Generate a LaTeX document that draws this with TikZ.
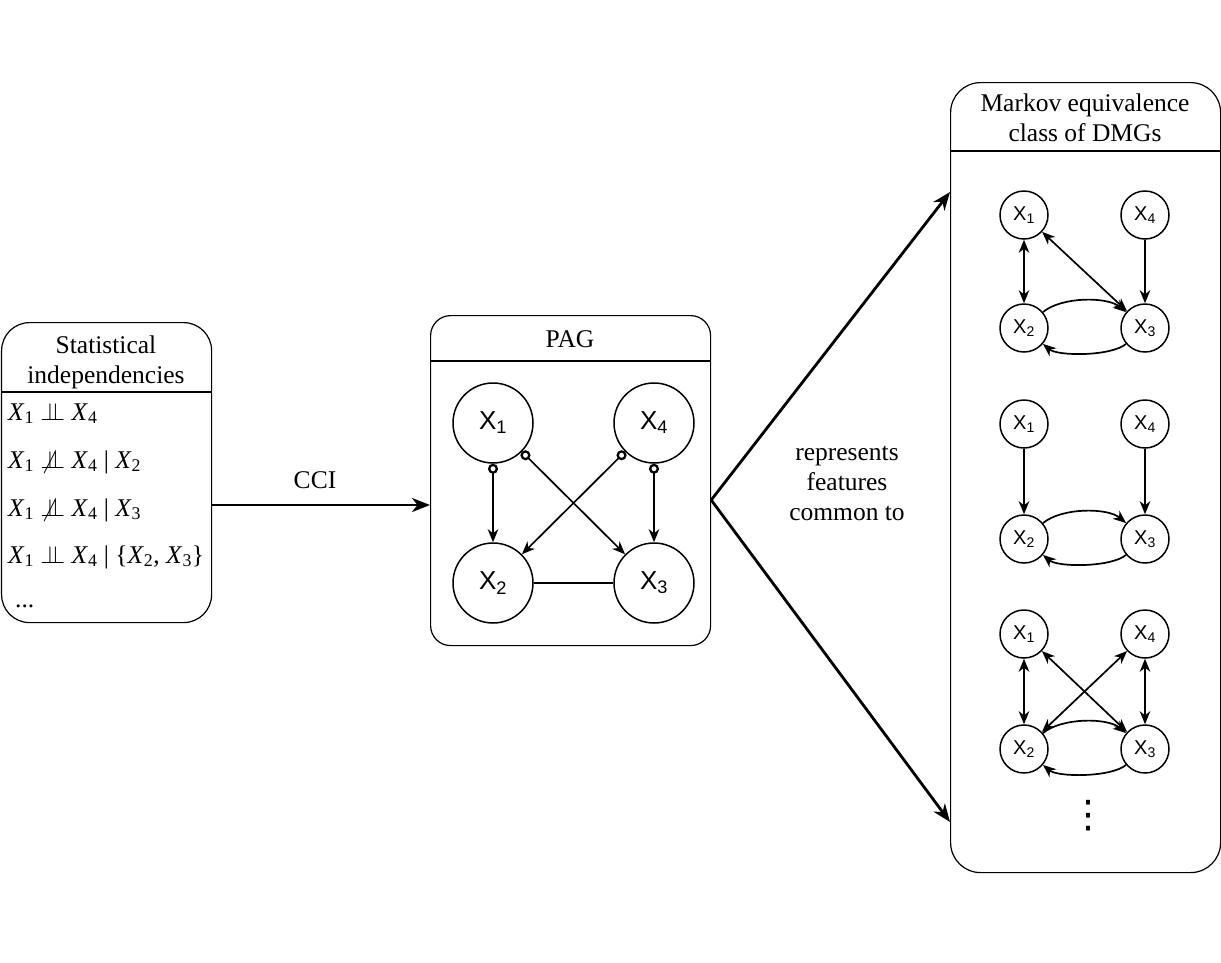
\documentclass[tikz,border=0pt]{standalone}
\usepackage{fontspec}
\setmainfont{Liberation Serif}
\newfontfamily\hv{Liberation Sans}
\newfontfamily\dejavu{DejaVu Sans}
\usetikzlibrary{arrows.meta,calc}
\newcommand\indepsym{\mathrel{\perp\mkern-10mu\perp}}
\newcommand\nindepsym{\mathrel{\not\perp\mkern-10mu\perp}}
\newcommand\vx[1]{\textit{X}\textsubscript{#1}}
\begin{document}
\begin{tikzpicture}[x=1pt,y=1pt,
  box/.style={draw,line width=1.2pt,rounded corners=28pt,inner sep=0pt,anchor=north west},
  divline/.style={line width=1.2pt},
  titletext/.style={font=\fontsize{25.5}{30}\selectfont,align=center,inner sep=0pt},
  mathline/.style={font=\fontsize{25.5}{28}\selectfont,anchor=base west,inner sep=0pt},
  bignode/.style={circle,draw,line width=1.5pt,minimum size=80pt,inner sep=0pt,font=\hv\fontsize{26}{26}\selectfont},
  smallnode/.style={circle,draw,line width=1.5pt,minimum size=48pt,inner sep=0pt,font=\hv\fontsize{20}{20}\selectfont},
  arr/.style={line width=1.7pt,-{Stealth[length=13pt,width=10.5pt,inset=4pt]}},
  biarr/.style={line width=1.7pt,{Stealth[length=13pt,width=10.5pt,inset=4pt]}-{Stealth[length=13pt,width=10.5pt,inset=4pt]}},
  oarr/.style={line width=1.7pt,{Circle[open,length=10pt,width=10pt,line width=2.3pt]}-{Stealth[length=13pt,width=10.5pt,inset=4pt]}},
  plainline/.style={line width=1.7pt},
  bigarr/.style={line width=2.8pt,-{Stealth[length=18pt,width=14pt,inset=5.5pt]}}
]
\useasboundingbox (0,0) rectangle (1221,-962);

% ---- left box
\node[box,minimum width=210pt,minimum height=300pt] (lbox) at (1,-322) {};
\coordinate (ldiv) at (0,-392);
\draw[divline] (lbox.west |- ldiv) -- (lbox.east |- ldiv);
\node[titletext] (ltitle) at (106,-362) {Statistical\\independencies};
\node[mathline] (m1) at (8,-420) {\vx1 $\indepsym$ \vx4};
\node[mathline] (m2) at (8,-468) {\vx1 $\nindepsym$ \vx4 | \vx2};
\node[mathline] (m3) at (8,-516) {\vx1 $\nindepsym$ \vx4 | \vx3};
\node[mathline] (m4) at (8,-563) {\vx1 $\indepsym$ \vx4 | \{\vx2, \vx3\}};
\node[mathline] (m5) at (15,-607) {...};

% ---- PAG box
\node[box,rounded corners=20pt,minimum width=280pt,minimum height=330pt] (pag) at (430,-315) {};
\coordinate (pdiv) at (0,-361);
\draw[divline] (pag.west |- pdiv) -- (pag.east |- pdiv);
\node[titletext] (pagtitle) at (570,-339.5) {PAG};
\node[bignode] (p1) at (493,-423) {X\textsubscript{1}};
\node[bignode] (p4) at (654,-423) {X\textsubscript{4}};
\node[bignode] (p2) at (493,-583) {X\textsubscript{2}};
\node[bignode] (p3) at (654,-583) {X\textsubscript{3}};
\draw[oarr] (p1) -- (p2);
\draw[oarr] (p1) -- (p3);
\draw[oarr] (p4) -- (p2);
\draw[oarr] (p4) -- (p3);
\draw[plainline] (p2) -- (p3);

% ---- MEC box
\node[box,rounded corners=30pt,minimum width=270pt,minimum height=790pt] (mec) at (950,-82) {};
\coordinate (mdiv) at (0,-151);
\draw[divline] (mec.west |- mdiv) -- (mec.east |- mdiv);
\node[titletext] (mectitle) at (1085,-118) {Markov equivalence\\class of DMGs};

% graph 1
\node[smallnode] (a1) at (1024,-215) {X\textsubscript{1}};
\node[smallnode] (a4) at (1145,-215) {X\textsubscript{4}};
\node[smallnode] (a2) at (1024,-328) {X\textsubscript{2}};
\node[smallnode] (a3) at (1145,-328) {X\textsubscript{3}};
\draw[biarr] (a1) -- (a2);
\draw[biarr] (a1) -- (a3);
\draw[arr] (a4) -- (a3);
\draw[arr] (a2) to[out=40,in=140,looseness=0.75] (a3);
\draw[arr] (a3) to[out=220,in=-40,looseness=0.6] (a2);

% graph 2
\node[smallnode] (b1) at (1024,-424) {X\textsubscript{1}};
\node[smallnode] (b4) at (1145,-424) {X\textsubscript{4}};
\node[smallnode] (b2) at (1024,-539) {X\textsubscript{2}};
\node[smallnode] (b3) at (1145,-539) {X\textsubscript{3}};
\draw[arr] (b1) -- (b2);
\draw[arr] (b4) -- (b3);
\draw[arr] (b2) to[out=40,in=140,looseness=0.75] (b3);
\draw[arr] (b3) to[out=220,in=-40,looseness=0.6] (b2);

% graph 3
\node[smallnode] (c1) at (1024,-634) {X\textsubscript{1}};
\node[smallnode] (c4) at (1145,-634) {X\textsubscript{4}};
\node[smallnode] (c2) at (1024,-749) {X\textsubscript{2}};
\node[smallnode] (c3) at (1145,-749) {X\textsubscript{3}};
\draw[biarr] (c1) -- (c2);
\draw[biarr] (c4) -- (c3);
\draw[biarr] (c1) -- (c3);
\draw[biarr] (c2) -- (c4);
\draw[arr] (c2) to[out=40,in=140,looseness=0.75] (c3);
\draw[arr] (c3) to[out=220,in=-40,looseness=0.6] (c2);

\node[inner sep=0pt,font=\dejavu\fontsize{38}{38}\selectfont] (dots) at (1088,-816) {⋮};

% ---- connectors
\coordinate (ycci) at (0,-505);
\draw[bigarr] (lbox.east |- ycci) -- (pag.west |- ycci);
\node[titletext] (cci) at (315,-480) {CCI};

\coordinate (yfork) at (0,-500);
\coordinate (ytop) at (0,-192);
\coordinate (ybot) at (0,-822);
\draw[bigarr] (pag.east |- yfork) -- (mec.west |- ytop);
\draw[bigarr] (pag.east |- yfork) -- (mec.west |- ybot);
\node[titletext] (rep) at (847,-483) {represents\\features\\common to};
\end{tikzpicture}
\end{document}
